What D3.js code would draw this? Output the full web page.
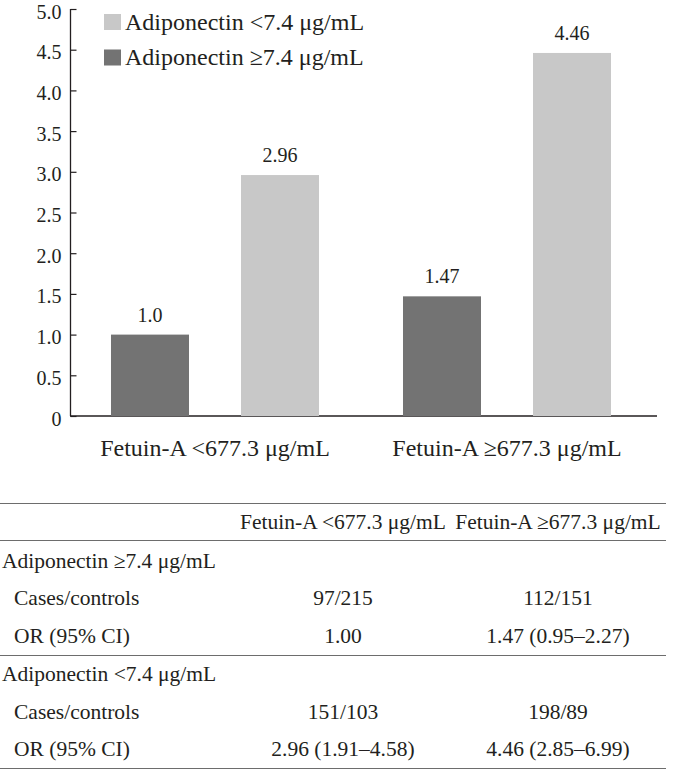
<!DOCTYPE html>
<html>
<head>
<meta charset="utf-8">
<script src="https://cdn.jsdelivr.net/npm/d3@7"></script>
<style>
  body { margin: 0; background: #fff; }
  svg text { font-family: "Liberation Serif", "Times New Roman", serif; fill: #231f20; }
</style>
</head>
<body>
<div id="chart"></div>
<script>
// data
var groups = ["Fetuin-A <677.3 \u03bcg/mL", "Fetuin-A \u2265677.3 \u03bcg/mL"];
var seriesNames = ["Adiponectin \u22657.4 \u03bcg/mL", "Adiponectin <7.4 \u03bcg/mL"];
var highAdipoOR = [1.0, 1.47];
var lowAdipoOR = [2.96, 4.46];
var highAdipoLabels = ["1.0", "1.47"];
var lowAdipoLabels = ["2.96", "4.46"];
var yTicks = [0, 0.5, 1.0, 1.5, 2.0, 2.5, 3.0, 3.5, 4.0, 4.5, 5.0];
var legendOrder = [1, 0]; // light first, then dark

var tableHeader = ["", "Fetuin-A <677.3 \u03bcg/mL", "Fetuin-A \u2265677.3 \u03bcg/mL"];
var tableSections = ["Adiponectin \u22657.4 \u03bcg/mL", "Adiponectin <7.4 \u03bcg/mL"];
var rowNames = ["Cases/controls", "OR (95% CI)"];
var highAdipoRows = [["97/215", "112/151"], ["1.00", "1.47 (0.95\u20132.27)"]];
var lowAdipoRows = [["151/103", "198/89"], ["2.96 (1.91\u20134.58)", "4.46 (2.85\u20136.99)"]];

var colors = ["#737373", "#c8c8c8"];

var W = 677, H = 770;
var svg = d3.select("#chart").append("svg")
  .attr("width", W).attr("height", H);

// scales
var x0 = d3.scaleBand().domain(groups).range([69, 653]);
var x1 = d3.scaleBand().domain([0, 1]).range([0, x0.bandwidth()])
  .paddingInner(0.4).paddingOuter(0.323);
var y = d3.scaleLinear().domain([0, 5]).range([416, 9]);

// y axis
var yAxis = svg.append("g")
  .attr("transform", "translate(70.5,0)")
  .attr("font-family", null)
  .call(d3.axisLeft(y).tickValues(yTicks).tickSize(-6).tickPadding(9)
    .tickFormat(function(d) { return d === 0 ? "0" : d3.format(".1f")(d); }));
yAxis.attr("font-family", null).attr("font-size", null);
yAxis.select(".domain").attr("stroke", "#231f20").attr("stroke-width", 1.3)
  .attr("d", "M0," + y(5) + "V" + y(0));
yAxis.selectAll(".tick line").attr("stroke", "#231f20").attr("stroke-width", 1.2);
yAxis.selectAll(".tick text")
  .attr("x", -9).attr("dy", "0.45em")
  .style("font-size", "20px").attr("fill", "#231f20");

// x axis baseline
svg.append("line")
  .attr("x1", 70).attr("x2", 657)
  .attr("y1", y(0)).attr("y2", y(0))
  .attr("stroke", "#231f20").attr("stroke-width", 1.5);

// bars
var barData = [];
groups.forEach(function(g, i) {
  barData.push({g: g, s: 0, v: highAdipoOR[i], label: highAdipoLabels[i]});
  barData.push({g: g, s: 1, v: lowAdipoOR[i], label: lowAdipoLabels[i]});
});

svg.selectAll(".bar").data(barData).enter().append("rect")
  .attr("class", "bar")
  .attr("x", function(d) { return x0(d.g) + x1(d.s); })
  .attr("width", x1.bandwidth())
  .attr("y", function(d) { return y(d.v); })
  .attr("height", function(d) { return y(0) - y(d.v); })
  .attr("fill", function(d) { return colors[d.s]; });

svg.selectAll(".blabel").data(barData).enter().append("text")
  .attr("class", "blabel")
  .attr("x", function(d) { return x0(d.g) + x1(d.s) + x1.bandwidth() / 2; })
  .attr("y", function(d) { return y(d.v) - 13; })
  .attr("text-anchor", "middle")
  .style("font-size", "20px")
  .text(function(d) { return d.label; });

// group labels
svg.selectAll(".glabel").data(groups).enter().append("text")
  .attr("class", "glabel")
  .attr("x", function(d) { return x0(d) + x0.bandwidth() / 2; })
  .attr("y", 456)
  .attr("text-anchor", "middle")
  .style("font-size", "24px")
  .text(function(d) { return d; });

// legend
var legend = svg.selectAll(".leg").data(legendOrder).enter().append("g")
  .attr("class", "leg")
  .attr("transform", function(d, i) { return "translate(104," + (14 + i * 35.5) + ")"; });
legend.append("rect").attr("width", 17).attr("height", 16)
  .attr("fill", function(d) { return colors[d]; });
legend.append("text").attr("x", 21).attr("y", 15.5)
  .style("font-size", "24px")
  .text(function(d) { return seriesNames[d]; });

// table
var tbl = svg.append("g");
var colX = [2, 343, 558];
var fs = "21.5px";
var lineYs = [503.5, 540.5, 655.5, 768.5];
tbl.selectAll(".rule").data(lineYs).enter().append("line")
  .attr("x1", 0).attr("x2", 666)
  .attr("y1", function(d) { return d; }).attr("y2", function(d) { return d; })
  .attr("stroke", "#6d6d6d").attr("stroke-width", 1.2);

tbl.selectAll(".th").data(tableHeader.slice(1)).enter().append("text")
  .attr("x", function(d, i) { return colX[i + 1]; })
  .attr("y", 529)
  .attr("text-anchor", "middle")
  .style("font-size", fs)
  .text(function(d) { return d; });

var rowH = 37.5;
[highAdipoRows, lowAdipoRows].forEach(function(rows, k) {
  var top = k === 0 ? 567.5 : 681;
  tbl.append("text").attr("x", colX[0]).attr("y", top)
    .style("font-size", fs).text(tableSections[k]);
  rows.forEach(function(r, j) {
    var yy = top + (j + 1) * rowH;
    tbl.append("text").attr("x", 14).attr("y", yy)
      .style("font-size", fs).text(rowNames[j]);
    r.forEach(function(cell, c) {
      tbl.append("text").attr("x", colX[c + 1]).attr("y", yy)
        .attr("text-anchor", "middle")
        .style("font-size", fs).text(cell);
    });
  });
});
</script>
</body>
</html>
